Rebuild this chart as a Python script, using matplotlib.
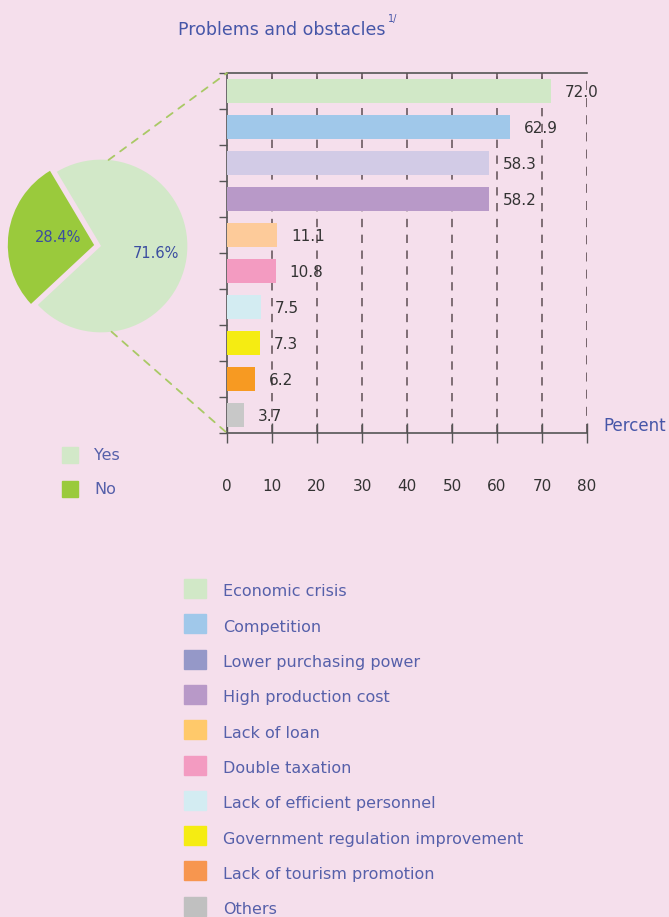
import numpy as np
import matplotlib
import matplotlib.pyplot as plt
from matplotlib.patches import Rectangle, ConnectionPatch

matplotlib.use("Agg")

# pie: establishments reporting problems
pie_labels = ["Yes", "No"]
pie_values = [71.6, 28.4]
pie_colors = ["#d2e8c8", "#9aca3c"]

# bar: problems and obstacles (percent)
problems = [
    "Economic crisis",
    "Competition",
    "Lower purchasing power",
    "High production cost",
    "Lack of loan",
    "Double taxation",
    "Lack of efficient personnel",
    "Government regulation improvement",
    "Lack of tourism promotion",
    "Others",
]
percents = [72.0, 62.9, 58.3, 58.2, 11.1, 10.8, 7.5, 7.3, 6.2, 3.7]
bar_colors = ["#d1e8c7", "#a0c8ea", "#d2cbe6", "#b899c8", "#fdcb9a",
              "#f39bc1", "#d3ecf2", "#f5ec12", "#f79a22", "#c8c8c8"]
legend_colors = ["#d1e8c7", "#a0c8ea", "#9598c8", "#b899c8", "#ffc96a",
                 "#f39bc1", "#d3ecf2", "#f5ec12", "#f7964f", "#c0c0c0"]
x_ticks = [0, 10, 20, 30, 40, 50, 60, 70, 80]

BG = "#f5dfec"
BLUE = "#4656a8"
LBLUE = "#5660aa"
DARK = "#333333"

fig = plt.figure(figsize=(6.69, 9.17), dpi=100, facecolor=BG)
W, H = 669, 917


def px_axes(x0, y0, x1, y1):
    return fig.add_axes([x0 / W, 1 - y1 / H, (x1 - x0) / W, (y1 - y0) / H])


# ---- bar chart ----
ax = px_axes(227, 73, 587, 433)
ax.set_facecolor("none")
y = np.arange(len(percents))
ax.barh(y, percents, height=0.66, color=bar_colors, zorder=3)
for yi, v in zip(y, percents):
    ax.annotate(f"{v:.1f}", (v, yi), xytext=(10, -1), textcoords="offset points",
                va="center", ha="left", fontsize=11, color=DARK, zorder=4)
ax.set_xlim(0, 80)
ax.set_ylim(len(percents) - 0.5, -0.5)
ax.set_xticks(x_ticks)
ax.set_xticklabels([str(t) for t in x_ticks], fontsize=11, color=DARK)
ax.tick_params(axis="x", direction="inout", length=14, width=1, color="#555555", pad=26)
ax.set_yticks(np.arange(len(percents) + 1) - 0.5)
ax.set_yticklabels([])
ax.tick_params(axis="y", direction="out", length=6, width=1, color="#555555")
for t in x_ticks[1:]:
    ax.axvline(t, color="#6a5a60", lw=1.3 if t == 80 else 1.2,
               ls=(0, (5, 4.5)), zorder=1)
# small top ticks
for t in x_ticks[1:-1]:
    ax.plot([t, t], [-0.5, -0.15], color="#6a5a60", lw=1.2, zorder=1)
for side in ["left", "bottom", "top"]:
    ax.spines[side].set_color("#555555")
    ax.spines[side].set_linewidth(1.2)
ax.spines["right"].set_visible(False)
ax.text(1.045, 0.02, "Percent", transform=ax.transAxes, color=BLUE, fontsize=12,
        ha="left", va="center")

title = fig.text(178 / W, 1 - 30 / H, "Problems and obstacles", color=BLUE,
                 fontsize=12.5, ha="left", va="center")
fig.text(388 / W, 1 - 19 / H, "1/", color=BLUE, fontsize=7, ha="left", va="center")

# ---- pie ----
pax = px_axes(101 - 95, 246 - 95, 101 + 95, 246 + 95)
wedges, texts, autotexts = pax.pie(
    pie_values, colors=pie_colors, startangle=223, explode=[0, 0.08],
    autopct="%.1f%%", pctdistance=0.64,
    textprops=dict(color="#3b4da0", fontsize=10.5),
)
autotexts[1].set_position((-0.5, 0.1))
pax.set_xlim(-1.1, 1.1)
pax.set_ylim(-1.1, 1.1)
pax.set_aspect("equal")
pax.axis("off")

# dashed guide lines from the pie to the bar chart
for ang, corner in [(85, (0, 1)), (-83, (0, 0))]:
    a = np.deg2rad(ang)
    con = ConnectionPatch(xyA=(np.cos(a), np.sin(a)), coordsA=pax.transData,
                          xyB=corner, coordsB=ax.transAxes,
                          color="#a9c965", lw=1.3, ls=(0, (4, 4)))
    fig.add_artist(con)

# pie legend
for i, (lab, col) in enumerate(zip(pie_labels, pie_colors)):
    yy = 455 + i * 34
    fig.patches.append(Rectangle((62 / W, 1 - (yy + 8) / H), 16 / W, 16 / H,
                                 transform=fig.transFigure, color=col))
    fig.text(94 / W, 1 - yy / H, lab, color=LBLUE, fontsize=11.5, va="center")

# bar legend
for i, (lab, col) in enumerate(zip(problems, legend_colors)):
    yy = 590 + i * 35.3
    fig.patches.append(Rectangle((184 / W, 1 - (yy + 8) / H), 22 / W, 19 / H,
                                 transform=fig.transFigure, color=col))
    fig.text(223 / W, 1 - (yy + 2) / H, lab, color=LBLUE, fontsize=11.5, va="center")

fig.savefig("out.png", dpi=100, facecolor=BG)
